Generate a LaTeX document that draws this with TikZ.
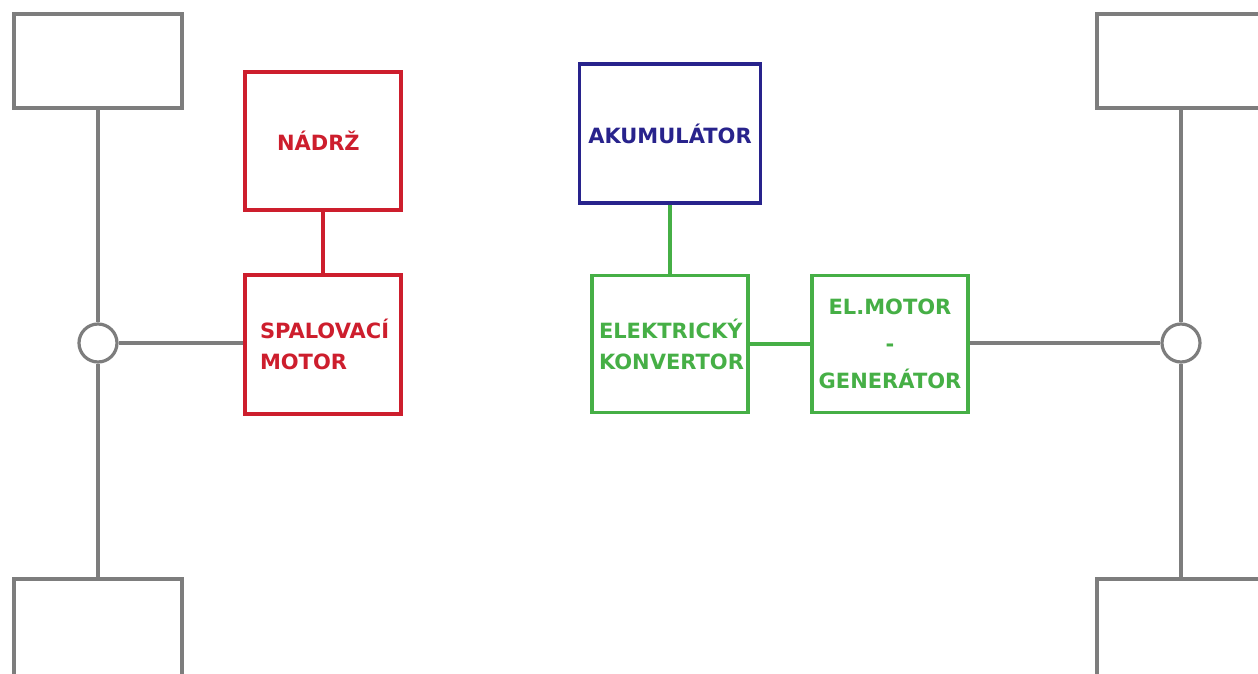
\documentclass[tikz,border=0pt]{standalone}
\usepackage{fontspec}
\setmainfont{DejaVu Sans}
\definecolor{cred}{RGB}{205,30,45}
\definecolor{cblue}{RGB}{40,35,140}
\definecolor{cgreen}{RGB}{70,175,70}
\definecolor{cgray}{RGB}{125,125,125}
\begin{document}
\begin{tikzpicture}[x=1pt,y=-1pt,
  wheel/.style={draw=cgray, line width=3.2pt, rectangle, minimum width=168pt, inner sep=0pt},
  hub/.style={draw=cgray, line width=3.2pt, circle, minimum size=38pt, inner sep=0pt, fill=white},
  blk/.style={rectangle, line width=3.2pt, inner sep=0pt, font=\bfseries\fontsize{21}{31}\selectfont},
  gline/.style={draw=cgray, line width=3.2pt},
]
\useasboundingbox (0,0) rectangle (1258,674);
\clip (0,0) rectangle (1258,674);
% wheels
\node[wheel, minimum height=94pt] (wTL) at (98,61) {};
\node[wheel, minimum height=111pt] (wBL) at (98,634.5) {};
\node[wheel, minimum height=94pt] (wTR) at (1181,61) {};
\node[wheel, minimum height=111pt] (wBR) at (1181,634.5) {};
% hubs
\node[hub] (cL) at (98,343) {};
\node[hub] (cR) at (1181,343) {};
% blocks
\node[blk, draw=cred, text=cred, minimum width=156pt, minimum height=138pt, text width=126pt, align=left, inner xsep=15pt, inner ysep=0pt] (tank) at (323,141) {\hspace*{17pt}NÁDRŽ};
\node[blk, draw=cred, text=cred, minimum width=156pt, minimum height=139pt, align=left, text width=126pt, inner xsep=15pt] (engine) at (323,344.5) {SPALOVACÍ\\MOTOR};
\node[blk, draw=cblue, text=cblue, minimum width=181pt, minimum height=139pt] (akku) at (670,133.5) {AKUMULÁTOR};
\node[blk, draw=cgreen, text=cgreen, minimum width=156pt, minimum height=137pt, align=left, text width=142pt, inner xsep=7pt] (conv) at (670,344) {ELEKTRICKÝ\\KONVERTOR};
\node[blk, draw=cgreen, text=cgreen, minimum width=156pt, minimum height=137pt, align=center, font=\bfseries\fontsize{21}{37}\selectfont] (elm) at (890,344) {EL.MOTOR\\-\\GENERÁTOR};
% connectors
\draw[gline] (wTL) -- (cL);
\draw[gline] (cL) -- (wBL);
\draw[gline] (wTR) -- (cR);
\draw[gline] (cR) -- (wBR);
\draw[gline] (cL.east) -- (engine.west |- cL.east);
\draw[gline] (elm.east |- cR.west) -- (cR.west);
\draw[draw=cred, line width=3.2pt] (tank) -- (engine);
\draw[draw=cgreen, line width=3.2pt] (akku) -- (conv);
\draw[draw=cgreen, line width=3.2pt] (conv) -- (elm);
\end{tikzpicture}
\end{document}
